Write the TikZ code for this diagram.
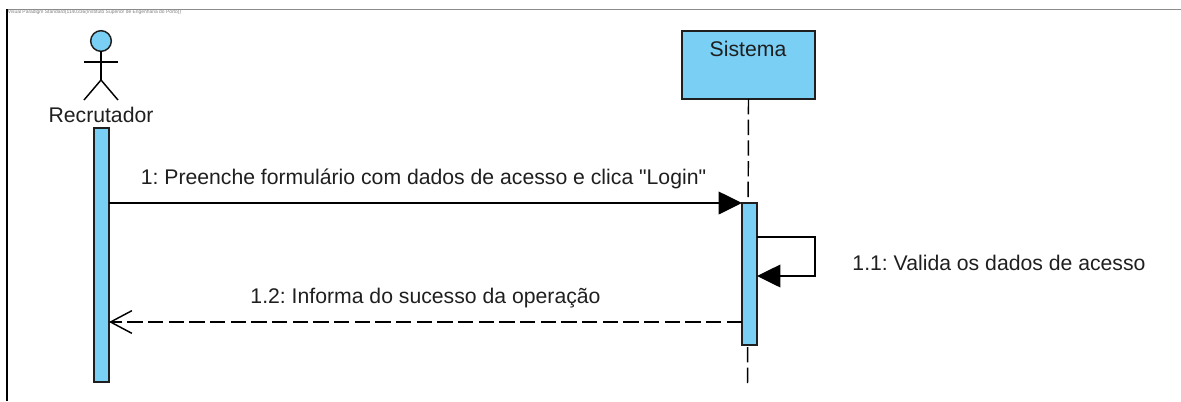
\documentclass[tikz,border=0pt]{standalone}
\usepackage{fontspec}
\newfontfamily\msgfont{Liberation Sans}
\usetikzlibrary{arrows.meta}
\definecolor{lifeblue}{RGB}{122,207,245}
\tikzset{
  umlline/.style={line width=1.1pt,color=black},
  lifebox/.style={draw=black!88,line width=1.1pt,fill=lifeblue,inner sep=0pt,outer sep=0pt},
  msgtext/.style={inner sep=0.75pt,font=\msgfont\fontsize{15.9}{18}\selectfont\frenchspacing,text=black!88},
  dashline/.style={umlline,dash pattern=on 11.5pt off 4pt},
  synctip/.style={-{Triangle[length=17.5pt,width=17pt]}},
  backtip/.style={-{Straight Barb[length=16pt,width=17pt,line width=1.1pt]}},
}
\begin{document}
\begin{tikzpicture}[x=0.75pt,y=0.75pt,yscale=-1,xscale=1]
\useasboundingbox (0,0) rectangle (1181,401);

%Frame
\coordinate (framecorner) at (7,9);
\coordinate (frameright) at (1181,9);
\coordinate (framebottom) at (7,401);
\draw [line width=0.6pt,color=black!45] (framecorner) -- (frameright);
\draw [line width=0.9pt,color=black] (framecorner) -- (framebottom);
\node (frametext) [anchor=north west,inner sep=0pt,text=black!50,font=\msgfont\fontsize{3.7}{4}\selectfont] at (7.5,10) {Visual Paradigm Standard(1140336(Instituto Superior de Engenharia do Porto))};

%Actor
\node (acthead) [lifebox,circle,minimum size=15.5pt] at (101,41) {};
\coordinate (acthip) at (101,80);
\coordinate (actarml) at (84,62);
\coordinate (actarmr) at (118,62);
\coordinate (actlegl) at (84,100);
\coordinate (actlegr) at (118,100);
\draw [umlline] (acthead) -- (acthip);
\draw [umlline] (actarml) -- (actarmr);
\draw [umlline] (actlegl) -- (acthip) -- (actlegr);
\node (actlabel) [msgtext] at (101,115) {Recrutador};

%Lifelines
\node (sysbox) [lifebox,minimum width=99.75pt,minimum height=51pt] at (748.5,65) {};
\node (syslabel) [msgtext] at (748,48.5) {Sistema};
\coordinate (sysend) at (747.5,384);
\draw [dashline] (sysbox.south) -- (sysend);
\node (actbar) [lifebox,minimum width=11.25pt,minimum height=190.5pt] at (101.5,255) {};
\node (sysbar) [lifebox,minimum width=11.25pt,minimum height=106.5pt] at (749.5,274) {};

%Messages
\draw [umlline,synctip] (actbar.east |- sysbar.north) -- (sysbar.north west);
\coordinate (selfa) at (sysbar.east |- 0,237);
\coordinate (selfb) at (815,237);
\coordinate (selfc) at (815,276);
\coordinate (selfd) at (sysbar.east |- 0,276);
\draw [umlline,synctip] (selfa) -- (selfb) -- (selfc) -- (selfd);
\coordinate (backa) at (sysbar.west |- 0,322);
\coordinate (backb) at (actbar.east |- 0,322);
\draw [dashline,backtip] (backa) -- (backb);

% Text Node
\node (msgone) [msgtext] at (423.5,179) {1: Preenche formulário com dados de acesso e clica "Login"};
% Text Node
\node (msgself) [msgtext] at (999,263) {1.1: Valida os dados de acesso};
% Text Node
\node (msgback) [msgtext] at (425.5,298) {1.2: Informa do sucesso da operação};

\end{tikzpicture}
\end{document}
